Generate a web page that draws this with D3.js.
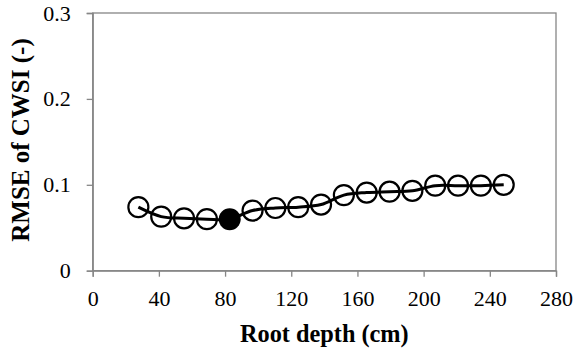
<!DOCTYPE html>
<html>
<head>
<meta charset="utf-8">
<script src="https://cdn.jsdelivr.net/npm/d3@7"></script>
<style>
  body { margin: 0; background: #fff; }
</style>
</head>
<body>
<div id="chart"></div>
<script>
// data
const rootDepth = [27.6, 41.4, 55.2, 69, 82.8, 96.6, 110.4, 124.2, 138, 151.8, 165.6, 179.4, 193.2, 207, 220.8, 234.6, 248.4];
const rmse = [0.074, 0.063, 0.061, 0.060, 0.060, 0.070, 0.073, 0.074, 0.077, 0.088, 0.091, 0.092, 0.093, 0.099, 0.099, 0.099, 0.100];
const bestDepth = 82.8;
const xTickValues = [0, 40, 80, 120, 160, 200, 240, 280];
const yTickValues = [0, 0.1, 0.2, 0.3];

let width = 575;
let height = 351;
let margin = { top: 13, right: 19, bottom: 80.3, left: 92.7 };
let serif = "'Times New Roman', 'Liberation Serif', 'DejaVu Serif', serif";

let svg = d3.select("#chart")
            .append("svg")
            .attr("width", width)
            .attr("height", height)
            .attr("font-family", serif);

let xScale = d3.scaleLinear()
               .domain([0, 280])
               .range([margin.left, width - margin.right]);

let yScale = d3.scaleLinear()
               .domain([0, 0.3])
               .range([height - margin.bottom, margin.top]);

// plot area border
svg.append("rect")
   .attr("x", xScale(0))
   .attr("y", yScale(0.3))
   .attr("width", xScale(280) - xScale(0))
   .attr("height", yScale(0) - yScale(0.3))
   .attr("fill", "none")
   .attr("stroke", "#868686")
   .attr("stroke-width", 1.3);

// axes
let xAxis = d3.axisBottom(xScale)
              .tickValues(xTickValues)
              .tickSize(6)
              .tickPadding(14)
              .tickFormat(d3.format("d"));

let yAxis = d3.axisLeft(yScale)
              .tickValues(yTickValues)
              .tickSize(6)
              .tickPadding(16)
              .tickFormat(d => d === 0 ? "0" : d3.format(".1f")(d));

let gx = svg.append("g")
   .attr("transform", "translate(0," + yScale(0) + ")")
   .call(xAxis);

let gy = svg.append("g")
   .attr("transform", "translate(" + xScale(0) + ",0)")
   .call(yAxis);

[gx, gy].forEach(g => {
  g.attr("font-family", serif).attr("font-size", 22);
  g.select(".domain").attr("stroke", "#868686").attr("stroke-width", 1.3);
  g.selectAll(".tick line").attr("stroke", "#868686").attr("stroke-width", 1.3);
  g.selectAll(".tick text").attr("fill", "#000");
});

// axis titles
svg.append("text")
   .attr("x", (xScale(0) + xScale(280)) / 2)
   .attr("y", 342)
   .attr("text-anchor", "middle")
   .attr("font-size", 24.3)
   .attr("font-weight", "bold")
   .text("Root depth (cm)");

svg.append("text")
   .attr("transform", "translate(29,140) rotate(-90)")
   .attr("text-anchor", "middle")
   .attr("font-size", 25)
   .attr("font-weight", "bold")
   .text("RMSE of CWSI (-)");

// smoothed line
let line = d3.line()
             .x((d, i) => xScale(rootDepth[i]))
             .y(d => yScale(d))
             .curve(d3.curveCardinal.tension(0));

svg.append("path")
   .datum(rmse)
   .attr("d", line)
   .attr("fill", "none")
   .attr("stroke", "#000")
   .attr("stroke-width", 3);

// markers
svg.selectAll("circle.pt")
   .data(rmse)
   .enter().append("circle")
   .attr("class", "pt")
   .attr("cx", (d, i) => xScale(rootDepth[i]))
   .attr("cy", d => yScale(d))
   .attr("r", (d, i) => rootDepth[i] === bestDepth ? 11 : 10)
   .attr("fill", (d, i) => rootDepth[i] === bestDepth ? "#000" : "none")
   .attr("stroke", "#000")
   .attr("stroke-width", (d, i) => rootDepth[i] === bestDepth ? 0 : 2.2);
</script>
</body>
</html>
